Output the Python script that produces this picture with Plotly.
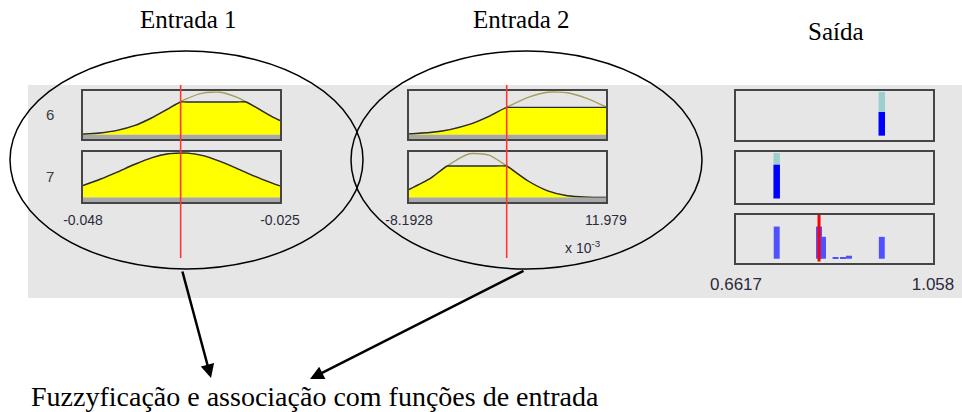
import numpy as np
import plotly.graph_objects as go

W, H = 962, 412

# input 1: range, membership functions of rules 6 and 7, crisp input
in1_range = [-0.048, -0.025]
in1_x = [-0.048, -0.046, -0.044, -0.042, -0.040, -0.038, -0.036, -0.034, -0.032, -0.030, -0.028, -0.026, -0.025]
in1_mf6 = [0.01, 0.04, 0.10, 0.21, 0.39, 0.61, 0.83, 0.97, 0.99, 0.87, 0.66, 0.43, 0.33]
in1_mf7 = [0.27, 0.41, 0.57, 0.74, 0.89, 0.98, 1.00, 0.94, 0.81, 0.65, 0.48, 0.33, 0.26]
in1_value = -0.0366

# input 2
in2_range = [-0.0081928, 0.011979]
in2_x = [-0.0081928, -0.006, -0.004, -0.002, 0.0, 0.002, 0.004, 0.006, 0.008, 0.010, 0.011979]
in2_mf6 = [0.015, 0.05, 0.12, 0.24, 0.43, 0.66, 0.87, 0.99, 0.98, 0.85, 0.65]
in2_mf7 = [0.18, 0.43, 0.75, 0.98, 0.95, 0.68, 0.37, 0.15, 0.04, 0.01, 0.0]
in2_value = 0.00181

# output (singletons)
out_range = [0.6617, 1.058]
rule_out = [0.955, 0.7436]
rule_fire = [0.54, 0.74]
agg_x = [0.7436, 0.8287, 0.8367, 0.862, 0.877, 0.889, 0.955]
agg_h = [0.75, 0.75, 0.51, 0.02, 0.02, 0.07, 0.51]
out_value = 0.8287

in1_ticks = ["-0.048", "-0.025"]
in2_ticks = ["-8.1928", "11.979"]
out_ticks = ["0.6617", "1.058"]


def clip(xs, ys, level):
    px, py = [], []
    for i in range(len(xs)):
        if i > 0 and (ys[i - 1] - level) * (ys[i] - level) < 0:
            t = (level - ys[i - 1]) / (ys[i] - ys[i - 1])
            px.append(xs[i - 1] + t * (xs[i] - xs[i - 1]))
            py.append(level)
        px.append(xs[i])
        py.append(min(ys[i], level))
    return px, py


# subplot boxes in pixels: x0, x1, top, bottom
boxes = [
    (83, 280, 91, 139),
    (83, 280, 152, 202),
    (409, 606, 91, 139),
    (409, 606, 152, 202),
    (736, 933, 91, 140),
    (736, 933, 152, 203),
    (736, 933, 215, 263),
]
xranges = [in1_range, in1_range, in2_range, in2_range, out_range, out_range, out_range]
ticktexts = {2: in1_ticks, 4: in2_ticks, 7: out_ticks}

fig = go.Figure()


def ax(i):
    return ("x", "y") if i == 1 else (f"x{i}", f"y{i}")


# input membership functions
mfs = [
    (1, in1_x, in1_mf6, in1_value),
    (2, in1_x, in1_mf7, in1_value),
    (3, in2_x, in2_mf6, in2_value),
    (4, in2_x, in2_mf7, in2_value),
]
for i, xs, mf, val in mfs:
    xa, ya = ax(i)
    level = float(np.interp(val, xs, mf))
    cx, cy = clip(xs, mf, level)
    fig.add_trace(go.Scatter(x=xs, y=mf, mode="lines", xaxis=xa, yaxis=ya,
                             line=dict(color="#a69f5c", width=1.4, shape="spline", smoothing=0.6),
                             hoverinfo="skip", showlegend=False))
    fig.add_trace(go.Scatter(x=cx, y=cy, mode="lines", xaxis=xa, yaxis=ya, fill="tozeroy",
                             fillcolor="#ffff00",
                             line=dict(color="#2a2a2a", width=1.4, shape="spline", smoothing=0.6),
                             hoverinfo="skip", showlegend=False))

# output rules
for k, i in enumerate([5, 6]):
    xa, ya = ax(i)
    fig.add_trace(go.Bar(x=[rule_out[k]], y=[1.0], width=0.013, xaxis=xa, yaxis=ya,
                         marker=dict(color="#9ccfcf", line_width=0), hoverinfo="skip", showlegend=False))
    fig.add_trace(go.Bar(x=[rule_out[k]], y=[rule_fire[k]], width=0.013, xaxis=xa, yaxis=ya,
                         marker=dict(color="#0000ff", line_width=0), hoverinfo="skip", showlegend=False))

fig.add_trace(go.Bar(x=agg_x, y=agg_h, width=0.012, xaxis="x7", yaxis="y7",
                     marker=dict(color="#5050ff", line_width=0), hoverinfo="skip", showlegend=False))

layout = dict(
    width=W, height=H,
    margin=dict(l=0, r=0, t=0, b=0, autoexpand=False),
    paper_bgcolor="white", plot_bgcolor="white",
    barmode="overlay", showlegend=False,
)
for n, (x0, x1, top, bot) in enumerate(boxes, start=1):
    sfx = "" if n == 1 else str(n)
    big = n == 7
    xa = dict(domain=[x0 / W, x1 / W], range=xranges[n - 1], anchor=f"y{sfx}",
              showline=True, mirror=True, linecolor="#454545", linewidth=1.5,
              showgrid=False, zeroline=False, fixedrange=True, automargin=False)
    if n in ticktexts:
        xa.update(tickvals=xranges[n - 1], ticktext=ticktexts[n], ticks="outside",
                  ticklen=5 if big else 4, tickcolor="rgba(0,0,0,0)",
                  tickfont=dict(family="Liberation Sans", size=17 if big else 14, color="#2b2b3c"))
    else:
        xa.update(showticklabels=False, ticks="")
    ya = dict(domain=[1 - bot / H, 1 - top / H], range=[-0.1, 1.02], anchor=f"x{sfx}",
              showline=True, mirror=True, linecolor="#454545", linewidth=1.5, automargin=False,
              showgrid=False, zeroline=False, showticklabels=False, ticks="", fixedrange=True)
    layout[f"xaxis{sfx}"] = xa
    layout[f"yaxis{sfx}"] = ya
fig.update_layout(**layout)

shapes = [
    dict(type="rect", xref="paper", yref="paper", x0=28 / W, x1=1, y0=1 - 298 / H, y1=1 - 85 / H,
         fillcolor="#e6e6e6", line_width=0, layer="below"),
]
# gray strip under input boxes
for i, rng in [(1, in1_range), (2, in1_range), (3, in2_range), (4, in2_range)]:
    xa, ya = ax(i)
    shapes.append(dict(type="rect", xref=xa, yref=ya, x0=rng[0], x1=rng[1], y0=-0.1, y1=0,
                       fillcolor="#a8a8a8", line_width=0, layer="above"))
# input red lines
for xa, val in [("x2", in1_value), ("x4", in2_value)]:
    shapes.append(dict(type="line", xref=xa, yref="paper", x0=val, x1=val,
                       y0=1 - 258 / H, y1=1 - 85 / H, line=dict(color="#ff3535", width=1.6), layer="above"))
shapes.append(dict(type="line", xref="x7", yref="y7 domain", x0=out_value, x1=out_value, y0=0.03, y1=1,
                   line=dict(color="#ff0000", width=3), layer="above"))
# ellipses
shapes.append(dict(type="circle", xref="paper", yref="paper", x0=10 / W, x1=363 / W,
                   y0=1 - 269 / H, y1=1 - 51 / H, line=dict(color="black", width=1.5), layer="above"))
shapes.append(dict(type="circle", xref="paper", yref="paper", x0=351 / W, x1=702 / W,
                   y0=1 - 269 / H, y1=1 - 51 / H, line=dict(color="black", width=1.5), layer="above"))
fig.update_layout(shapes=shapes)

serif = "Liberation Serif"
ann = [
    dict(x=188 / W, y=1 - 20 / H, text="Entrada 1", font=dict(family=serif, size=25, color="black")),
    dict(x=521 / W, y=1 - 20 / H, text="Entrada 2", font=dict(family=serif, size=25, color="black")),
    dict(x=836 / W, y=1 - 32 / H, text="Saída", font=dict(family=serif, size=25, color="black")),
    dict(x=50 / W, y=1 - 114 / H, text="6", font=dict(family="Liberation Sans", size=15, color="#3a3a48")),
    dict(x=50 / W, y=1 - 177 / H, text="7", font=dict(family="Liberation Sans", size=15, color="#3a3a48")),
    dict(x=583 / W, y=1 - 247 / H, text="x 10<sup>-3</sup>",
         font=dict(family="Liberation Sans", size=14, color="#2b2b3c")),
    dict(x=29 / W, y=1 - 396 / H, xanchor="left", text="Fuzzyficação e associação com funções de entrada",
         font=dict(family=serif, size=28, color="black")),
]
for a in ann:
    a.update(xref="paper", yref="paper", showarrow=False)
    a.setdefault("xanchor", "center")
    a["yanchor"] = "middle"
# arrows (tip position, tail offset in pixels)
for tip, tail in [((211, 378), (182, 270)), ((310, 379), (525, 270))]:
    ann.append(dict(xref="paper", yref="paper", x=tip[0] / W, y=1 - tip[1] / H, text="",
                    showarrow=True, axref="pixel", ayref="pixel",
                    ax=tail[0] - tip[0], ay=tail[1] - tip[1],
                    arrowhead=2, arrowsize=1.1, arrowwidth=2.5, arrowcolor="black", standoff=0))
fig.update_layout(annotations=ann)

fig.write_html("out.html", config={"displayModeBar": False},
               post_script="document.body.style.margin='0px';")
